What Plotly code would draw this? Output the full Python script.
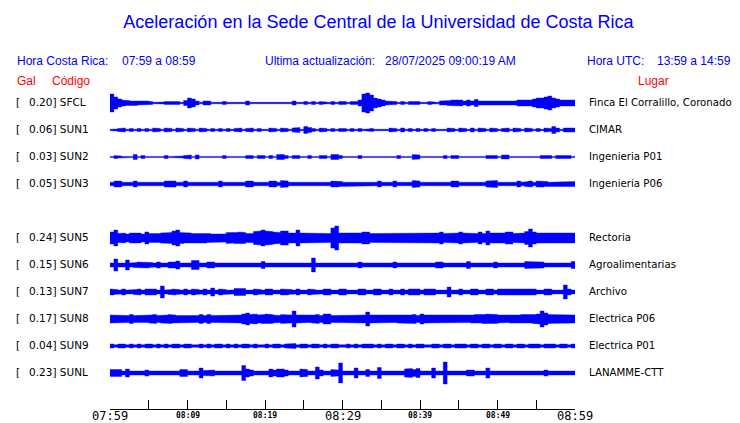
import plotly.graph_objects as go

# ---------------- data ----------------
codes = ["SFCL", "SUN1", "SUN2", "SUN3", "SUN5", "SUN6", "SUN7", "SUN8", "SUN9", "SUNL"]
gal_peak = [0.20, 0.06, 0.03, 0.05, 0.24, 0.15, 0.13, 0.17, 0.04, 0.23]
places = ["Finca El Corralillo, Coronado", "CIMAR", "Ingenieria P01", "Ingenieria P06",
          "Rectoria", "Agroalimentarias", "Archivo", "Electrica P06", "Electrica P01",
          "LANAMME-CTT"]
row_slot = [0, 1, 2, 3, 5, 6, 7, 8, 9, 10]          # SUN4 slot is empty
noise_floor = [0.7, 0.7, 0.6, 1.8, 3.5, 2.0, 1.9, 2.8, 1.2, 2.0]

tick_minutes = [0, 5, 10, 15, 20, 25, 30, 35, 40, 45, 50, 55, 60]
tick_labels = ["07:59", "", "08:09", "", "08:19", "", "08:29", "", "08:39", "", "08:49", "", "08:59"]
major_labels = ["07:59", "08:29", "08:59"]

# envelope (half amplitude) read per half-minute, 07:59 -> 08:59
env_SFCL = [9, 6, 4, 3, 2.5, 2, 2.5, 2, 2, 2,
            1.5, 0, 0, 1, 1.5, 1.5, 2, 1.5, 0, 2.5,
            5, 4, 2, 0, 2, 2, 0, 0, 0, 1.5,
            0, 0, 0, 0, 0, 2, 0, 0, 0, 0,
            0, 0, 0, 0, 0, 0, 0, 2, 0, 0,
            1.5, 0, 1.5, 0, 1.5, 1, 0, 1.5, 0, 1.5,
            1.5, 0, 1.5, 1.5, 3, 9, 10, 8, 5, 4,
            3, 2, 2, 1.5, 0, 1.5, 0, 1.5, 1, 1.5,
            0, 0, 1.5, 1, 0, 2, 2, 2.5, 3, 2.5,
            3, 2, 3, 2, 3.5, 2, 2, 2, 2, 1.5,
            2, 2, 1.5, 2, 2, 3, 2.5, 3, 3, 4,
            5, 5, 6, 7, 5, 4, 3, 3, 3, 3]
env_SUN1 = [0, 1, 1.5, 2, 0, 1.5, 0, 1.5, 0, 1.5,
            0, 2, 1.5, 0, 2, 1.5, 0, 2, 1.5, 0,
            2, 1.5, 0, 2, 1.5, 0, 1.5, 0, 1.5, 0,
            1.5, 0, 1.5, 2, 0, 1.5, 2, 0, 1.5, 0,
            0, 2, 1.5, 0, 2, 1.5, 0, 2, 2.5, 0,
            3.5, 2.5, 1.5, 0, 2, 1.5, 0, 1.5, 0, 1.5,
            1.5, 0, 1.5, 0, 1.5, 0, 1, 1.5, 0, 0,
            0, 0, 2, 1.5, 0, 2, 0, 1.5, 0, 1.5,
            0, 1.5, 0, 1.5, 0, 0, 0, 2, 1.5, 0,
            2, 1.5, 0, 2, 0, 2, 1.5, 0, 2, 1.5,
            0, 1.5, 2, 0, 2, 1.5, 0, 2, 1.5, 0,
            1.5, 0, 2, 1.5, 3.5, 2, 0, 2, 1.5, 2]
env_SUN2 = [0, 1.5, 1, 0, 0, 0, 2.5, 0, 1.5, 0,
            0, 0, 1, 0, 1.5, 0, 0, 0, 1, 1.5,
            2, 0, 2, 0, 0, 0, 1, 0, 0, 1.5,
            0, 0, 0, 0, 0, 1.5, 1.5, 0, 1.5, 1.5,
            0, 1.5, 0, 2.5, 2.5, 1.5, 0, 1.5, 1.5, 0,
            0, 1.5, 0, 0, 1.5, 1.5, 0, 2.5, 2.5, 1.5,
            0, 0, 0, 0, 1.5, 0, 1, 0, 0, 1,
            0, 0, 0, 0, 1.5, 0, 0, 0, 2.5, 2,
            0, 0, 0, 0, 0, 0, 1.5, 0, 1.5, 1.5,
            0, 0, 1, 0, 0, 0, 0, 1.5, 1.5, 1.5,
            0, 2, 2, 0, 0, 1, 0, 0, 0, 0,
            0, 1.5, 1.5, 1.5, 0, 1.5, 1.5, 1, 1.5, 0]
env_SUN3 = [0, 3, 3, 0, 0, 0, 3, 0, 0, 2.5,
            0, 2.5, 0, 0, 3, 3, 3, 0, 0, 3,
            0, 2.5, 2.5, 0, 2.5, 0, 2.5, 0, 3, 0,
            0, 0, 0, 0, 0, 3, 3, 0, 2.5, 2.5,
            0, 3, 3, 0, 3.5, 3, 0, 2.5, 0, 2.5,
            0, 2.5, 0, 0, 0, 2.5, 0, 3, 3, 2.5,
            0, 0, 0, 0, 0, 0, 0, 0, 0, 3,
            0, 0, 0, 3, 0, 0, 2.5, 0, 3.5, 3,
            0, 2.5, 0, 0, 2.5, 0, 0, 0, 3, 3,
            0, 0, 2.5, 0, 0, 0, 0, 3, 3.5, 3.5,
            0, 0, 2.5, 0, 0, 3, 0, 2.5, 3, 0,
            3, 3, 2.5, 0, 2.5, 0, 2.5, 2.5, 0, 2.5]
env_SUN5 = [6, 8, 4.5, 5, 4, 5, 4.5, 5, 4, 6,
            4.5, 4, 4.5, 5, 5, 5.5, 7, 8, 5.5, 5,
            5, 4.5, 4.5, 5, 5, 4.5, 4, 4, 4.5, 4,
            5.5, 5, 5.5, 6, 5.5, 4.5, 4.5, 6.5, 7, 8,
            7, 6.5, 6, 5.5, 7, 7, 5, 5, 8, 5,
            5, 5, 4.5, 5, 5, 5, 4.5, 10, 12, 5,
            5, 5, 4.5, 4.5, 5, 6, 6, 4.5, 4.5, 4.5,
            4.5, 4.5, 4.5, 4.5, 4.5, 5, 5, 4.5, 4.5, 4.5,
            4.5, 4.5, 4.5, 4.5, 5, 6, 4.5, 4.5, 4.5, 5,
            6, 5, 4.5, 4.5, 4.5, 6, 4.5, 7, 5, 4.5,
            4.5, 5, 6, 6, 4.5, 4.5, 5, 6.5, 9, 6,
            5, 5, 5, 5, 5.5, 5, 5, 5, 5, 5]
env_SUN6 = [0, 6, 0, 0, 5, 0, 2.5, 3, 3, 3,
            2.5, 0, 3, 0, 0, 3, 3, 4, 0, 0,
            0, 4.5, 4.5, 0, 0, 3, 3, 0, 0, 0,
            0, 2.5, 0, 2.5, 2.5, 0, 0, 0, 0, 3.5,
            0, 0, 0, 2.5, 0, 0, 0, 0, 2.5, 2.5,
            0, 0, 7, 0, 0, 2.5, 0, 0, 2.5, 2.5,
            2.5, 0, 0, 0, 3, 0, 0, 0, 0, 0,
            0, 0, 0, 3, 0, 0, 2.5, 2.5, 0, 2.5,
            0, 0, 0, 0, 3, 3, 0, 0, 2.5, 0,
            0, 0, 3.5, 0, 0, 0, 0, 2.5, 0, 3,
            0, 2.5, 0, 0, 0, 0, 0, 3.5, 3.5, 3,
            3, 3, 0, 0, 2.5, 0, 0, 0, 0, 3.5]
env_SUN7 = [3, 2.5, 0, 3, 0, 0, 2.5, 3, 0, 3,
            2.5, 3, 0, 6, 0, 2.5, 3, 2.5, 0, 3,
            0, 3, 2.5, 0, 3, 0, 4, 0, 3, 2.5,
            0, 0, 3.5, 3, 3.5, 0, 0, 3, 2.5, 0,
            3, 3, 0, 0, 3, 3, 2.5, 0, 3, 0,
            0, 3, 2.5, 0, 0, 3, 3, 0, 0, 3,
            3, 0, 0, 0, 3, 3, 0, 0, 3, 3,
            0, 0, 3, 0, 0, 3, 0, 3, 3, 3,
            0, 3, 3, 3, 0, 0, 0, 5, 0, 0,
            3, 0, 0, 3, 3, 0, 0, 3, 3, 0,
            3, 3, 2.5, 3, 3, 3, 3, 2.5, 3, 3,
            0, 0, 3, 3, 0, 0, 0, 7, 3, 0]
env_SUN8 = [4, 4, 3.5, 4, 3.5, 4.5, 3.5, 4, 4, 3.5,
            4, 4.5, 3.5, 4, 4, 4.5, 4, 3.5, 4, 3.5,
            3.5, 4, 3.5, 4.5, 3.5, 4.5, 3.5, 3.5, 3.5, 4,
            4, 3.5, 3.5, 4, 5, 6, 4.5, 5, 4, 4.5,
            5, 4.5, 4, 3.5, 4.5, 4.5, 4, 8, 4, 3.5,
            4, 3.5, 4, 4.5, 3.5, 5, 5, 3.5, 3.5, 4,
            3.5, 4, 3.5, 3.5, 4, 4, 7, 4, 3.5, 4,
            3.5, 4, 4, 3.5, 4, 4, 4, 4, 4.5, 3.5,
            5, 4, 3.5, 4, 4, 3.5, 3.5, 4, 4, 3.5,
            4, 4, 3.5, 4, 4.5, 4, 4.5, 5, 5, 4.5,
            4, 3.5, 3.5, 4, 4, 4, 4.5, 4, 4, 4.5,
            5, 8, 6, 4.5, 4, 4, 4, 4, 4.5, 4]
env_SUN9 = [2, 0, 2, 2, 0, 2, 0, 2, 0, 2,
            2, 0, 2, 0, 2, 0, 2, 2, 0, 2,
            2, 0, 0, 2, 0, 2, 0, 2, 2, 0,
            2, 0, 2, 0, 2, 2, 0, 2, 0, 0,
            2, 0, 2, 2, 0, 2, 2, 2.5, 0, 2,
            2, 0, 2, 2, 0, 2, 0, 2, 2, 0,
            0, 2, 0, 2, 0, 2, 2.5, 2, 0, 2,
            0, 2, 2, 0, 2, 2, 0, 2, 0, 2,
            2, 0, 0, 2, 2, 0, 2, 2, 0, 2,
            2, 2, 0, 2, 2, 0, 2, 2, 0, 2,
            2, 0, 2, 2, 0, 2, 2, 0, 2, 2,
            2, 0, 2, 2, 2, 0, 2, 2, 0, 2]
env_SUNL = [3.5, 3, 3.5, 0, 4, 0, 0, 0, 0, 3,
            0, 0, 2.5, 0, 2.5, 0, 0, 0, 3.5, 3.5,
            0, 0, 0, 5, 2.5, 3, 3, 0, 0, 0,
            0, 0, 0, 0, 7.5, 4, 3, 0, 0, 0,
            0, 4, 3, 4, 4, 3, 0, 0, 0, 4,
            3.5, 0, 0, 6, 3, 0, 0, 3.5, 3, 10,
            0, 0, 0, 5, 0, 0, 3.5, 0, 0, 5.5,
            0, 0, 0, 0, 0, 0, 4, 4.5, 3.5, 4.5,
            0, 0, 0, 5, 0, 0, 11, 0, 0, 0,
            0, 0, 3, 3, 0, 0, 0, 5, 0, 0,
            0, 0, 0, 0, 0, 0, 0, 0, 0, 0,
            0, 0, 3, 0, 2.5, 2.5, 2.5, 2.5, 2.5, 0]
envelopes = [env_SFCL, env_SUN1, env_SUN2, env_SUN3, env_SUN5,
             env_SUN6, env_SUN7, env_SUN8, env_SUN9, env_SUNL]

# ---------------- layout constants (window pixels) ----------------
WIN_W, WIN_H = 740, 423
OFF = 8                      # page body margin in front of the figure
W, H = WIN_W - OFF, WIN_H - OFF
PLOT_X0, PLOT_X1 = 110, 575
ROW0, ROW_STEP = 103, 27
AXIS_Y = 409
TICKLABEL_Y = 415.8
BIN = 0.5
BLUE = "#0000ff"
RED = "#ff0000"
SANS = "DejaVu Sans"
MONO = "DejaVu Sans Mono"
HEAD = "Liberation Sans, Arial, sans-serif"


def px_x(px):
    return (px - OFF) / W


def px_y(py):
    return 1 - (py - OFF) / H


fig = go.Figure()

for env, floor, slot in zip(envelopes, noise_floor, row_slot):
    base = ROW0 + ROW_STEP * slot
    amp = [max(floor, v) for v in env]
    xs, ys = [], []
    for i, a in enumerate(amp):
        xs += [i * BIN, (i + 1) * BIN]
        ys += [base - a, base - a]
    for i in range(len(amp) - 1, -1, -1):
        xs += [(i + 1) * BIN, i * BIN]
        ys += [base + amp[i], base + amp[i]]
    fig.add_trace(go.Scatter(x=xs, y=ys, mode="lines", fill="toself",
                             fillcolor=BLUE, line=dict(color=BLUE, width=0.4),
                             hoverinfo="skip", showlegend=False))

ann = []


def add_text(txt, px, py, size, color="black", font=SANS, anchor="left"):
    ann.append(dict(text=txt, x=px_x(px), xref="paper", y=py, yref="y",
                    xanchor=anchor, yanchor="middle", showarrow=False,
                    font=dict(family=font, size=size, color=color)))


for code, g, place, slot in zip(codes, gal_peak, places, row_slot):
    yrow = ROW0 + ROW_STEP * slot - 1
    add_text("[", 14, yrow, 10.5)
    add_text(f"{g:.2f}] {code}", 27, yrow, 10.5)
    add_text(place, 587, yrow, 10.2)

add_text("Hora Costa Rica:", 15, 61, 12, BLUE, HEAD)
add_text("07:59 a 08:59", 120, 61, 12, BLUE, HEAD)
add_text("Ultima actualización:", 263, 61, 12, BLUE, HEAD)
add_text("28/07/2025 09:00:19 AM", 383, 61, 12, BLUE, HEAD)
add_text("Hora UTC:", 585, 61, 12, BLUE, HEAD)
add_text("13:59 a 14:59", 655, 61, 12, BLUE, HEAD)
add_text("Gal", 15, 81, 12, RED, HEAD)
add_text("Código", 50, 81, 12, RED, HEAD)
add_text("Lugar", 636, 81, 12, RED, HEAD)

# time labels under the axis ticks
for t, lab in zip(tick_minutes, tick_labels):
    if not lab:
        continue
    big = lab in major_labels
    ann.append(dict(text=lab if big else f"<b>{lab}</b>", x=t, xref="x",
                    y=TICKLABEL_Y, yref="y", xanchor="center", yanchor="middle",
                    showarrow=False,
                    font=dict(family=MONO, size=12 if big else 8, color="black")))

fig.update_layout(
    width=W, height=H, autosize=False,
    margin=dict(l=0, r=0, t=0, b=0, pad=0, autoexpand=False),
    paper_bgcolor="white", plot_bgcolor="white",
    title=dict(text="Aceleración en la Sede Central de la Universidad de Costa Rica",
               x=px_x(378.5), xanchor="center", y=px_y(22), yanchor="middle",
               xref="paper", yref="paper", automargin=False,
               font=dict(family=HEAD, size=18, color=BLUE)),
    xaxis=dict(domain=[px_x(PLOT_X0), px_x(PLOT_X1)], range=[0, 60],
               anchor="free", position=px_y(AXIS_Y), automargin=False,
               showline=True, linecolor="black", linewidth=1,
               ticks="inside", ticklen=9, tickwidth=1, tickcolor="black",
               tickmode="array", tickvals=tick_minutes, showticklabels=False,
               showgrid=False, zeroline=False, fixedrange=True),
    yaxis=dict(domain=[0, 1], range=[WIN_H, OFF], visible=False, automargin=False,
               showgrid=False, zeroline=False, fixedrange=True),
    annotations=ann,
    showlegend=False,
)

fig.write_html("out.html")
